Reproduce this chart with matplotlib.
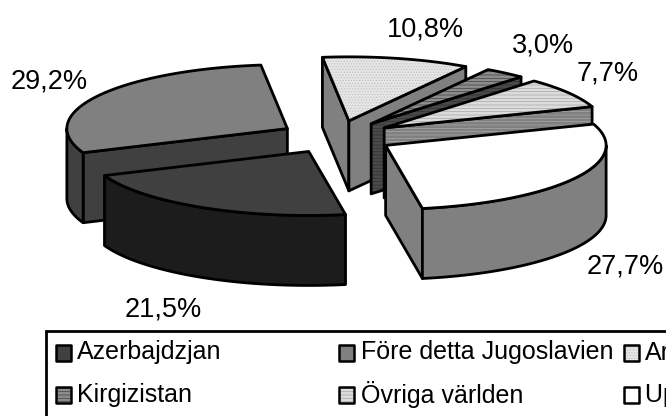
import numpy as np
import matplotlib
matplotlib.use("Agg")
import matplotlib.pyplot as plt
from matplotlib.patches import Polygon, Rectangle

plt.rcParams['font.family'] = ['Liberation Sans', 'DejaVu Sans']
plt.rcParams['hatch.linewidth'] = 0.5

# data, clockwise from the start angle
names = ["Armenien", "Kirgizistan", "Övriga världen", "Uppgift saknas", "Azerbajdzjan", "Före detta Jugoslavien"]
shares = [10.8, 3.0, 7.7, 27.7, 21.5, 29.2]
labels = ["10,8%", "3,0%", "7,7%", "27,7%", "21,5%", "29,2%"]

# style per slice: top colour, wall colour, hatch
top_colors = ["#e6e6e6", "#8c8c8c", "#dcdcdc", "#ffffff", "#404040", "#808080"]
wall_colors = ["#808080", "#4a4a4a", "#808080", "#808080", "#1c1c1c", "#404040"]
hatches = ["......", "-----", "-----", None, None, None]
wall_hatches = [None, "-----", "-----", None, None, None]
hatch_colors = ["#bdbdbd", "#404040", "#a8a8a8", "black", "black", "black"]
wall_hatch_colors = ["black", "#303030", "#a8a8a8", "black", "black", "black"]

label_pos = [(425, 30), (543, 45), (608, 73), (625, 266.5), (163, 310), (49.5, 81.5)]

# pie projection in pixels
CX, CY = 336.5, 137
RX, RY = 220.5, 64
EXPLODE = 57 / 220.5
DEPTH = 70
START = -6.9
LW = 2.0

fig = plt.figure(figsize=(6.66, 4.16), dpi=100)
ax = fig.add_axes([0, 0, 1, 1])
ax.set_xlim(0, 666)
ax.set_ylim(416, 0)
ax.axis("off")


def pt(cx, cy, theta):
    rad = np.radians(theta)
    return cx + RX * np.sin(rad), cy - RY * np.cos(rad)


def face(points, color, hatch=None, hcolor="black", z=1, lw=LW):
    ax.add_patch(Polygon(points, closed=True, facecolor=color, edgecolor="none", zorder=z))
    if hatch:
        ax.add_patch(Polygon(points, closed=True, facecolor="none", edgecolor=hcolor,
                             hatch=hatch, linewidth=0, zorder=z))
    ax.add_patch(Polygon(points, closed=True, facecolor="none", edgecolor="black",
                         linewidth=lw, joinstyle="round", zorder=z))


# work out slice angles
total = sum(shares)
slices = []
a0 = START
for i, s in enumerate(shares):
    a1 = a0 + 360 * s / total
    slices.append((i, a0, a1))
    a0 = a1

# back slices first
slices.sort(key=lambda t: -np.cos(np.radians((t[1] + t[2]) / 2)))

for n, (i, a0, a1) in enumerate(slices):
    mid = np.radians((a0 + a1) / 2)
    cx = CX + EXPLODE * RX * np.sin(mid)
    cy = CY - EXPLODE * RY * np.cos(mid)
    z = 2 + n
    wc, h, hc = wall_colors[i], wall_hatches[i], wall_hatch_colors[i]

    # radial walls, only when they face the viewer
    for ang, normal in ((a0, a0 - 90), (a1, a1 + 90)):
        if np.cos(np.radians(normal)) < 0:
            x, y = pt(cx, cy, ang)
            face([(cx, cy), (x, y), (x, y + DEPTH), (cx, cy + DEPTH)], wc, h, hc, z)

    # outer wall, the front half of the ellipse
    lo = max(a0, 90)
    hi = min(a1, 270)
    if lo < hi:
        th = np.linspace(lo, hi, 60)
        xs, ys = pt(cx, cy, th)
        pts = list(zip(xs, ys)) + list(zip(xs[::-1], ys[::-1] + DEPTH))
        face(pts, wc, h, hc, z)

    # top
    th = np.linspace(a0, a1, 80)
    xs, ys = pt(cx, cy, th)
    face([(cx, cy)] + list(zip(xs, ys)), top_colors[i], hatches[i], hatch_colors[i], z)

for t, (x, y) in zip(labels, label_pos):
    ax.text(x, y, t, fontsize=19.5, ha="center", va="center", color="black", zorder=30)

# legend box runs off the picture on the right and at the bottom
ax.add_patch(Rectangle((46, 330.5), 700, 120, facecolor="white", edgecolor="black", linewidth=2, zorder=20))
legend_order = [4, 5, 0, 1, 2, 3]
col_x = [56, 339, 624]
text_x = [77, 361, 645]
row_y = [352.5, 395]
for k, i in enumerate(legend_order):
    x = col_x[k % 3]
    y = row_y[k // 3]
    corners = [(x, y - 8), (x + 15, y - 8), (x + 15, y + 8), (x, y + 8)]
    face(corners, top_colors[i], hatches[i], hatch_colors[i], 21, lw=1.8)
    ax.text(text_x[k % 3], y, names[i], fontsize=18, ha="left", va="center", color="black",
            zorder=22, clip_on=True)

fig.savefig("out.png", dpi=100)
